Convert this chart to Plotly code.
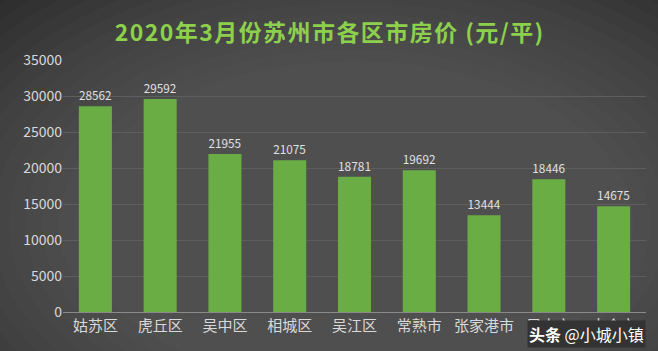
import plotly.graph_objects as go

categories = ["姑苏区", "虎丘区", "吴中区", "相城区", "吴江区", "常熟市", "张家港市", "昆山市", "太仓市"]
prices = [28562, 29592, 21955, 21075, 18781, 19692, 13444, 18446, 14675]
y_ticks = [0, 5000, 10000, 15000, 20000, 25000, 30000, 35000]
title_text = "2020年3月份苏州市各区市房价 (元/平)"

fig = go.Figure()
fig.add_trace(go.Bar(
    x=categories, y=prices,
    marker=dict(color="#6aad45", line=dict(width=0)),
    text=[str(v) for v in prices], textposition="outside",
    textfont=dict(color="#e0e0e0", size=12, family="Noto Sans CJK SC"),
    cliponaxis=False,
))

# soft radial background glow
n = 14
for i in range(n):
    k = i / n
    fig.add_shape(type="circle", xref="paper", yref="paper",
                  x0=-0.35 + 0.8 * k * 0.5, x1=1.35 - 0.8 * k * 0.5,
                  y0=-0.9 + 1.3 * k * 0.5, y1=1.6 - 1.3 * k * 0.5,
                  fillcolor="#ffffff", opacity=0.017, line=dict(width=0), layer="below")

spaced_title = "\u200a".join(title_text)

fig.update_layout(
    width=658, height=351,
    margin=dict(l=63, r=12, t=60, b=39),
    paper_bgcolor="#2c2c2c", plot_bgcolor="rgba(0,0,0,0)",
    bargap=0.49,
    showlegend=False,
    title=dict(text="<b>" + spaced_title + "</b>", x=0.5, xanchor="center",
               y=0.905, yanchor="middle",
               font=dict(color="#8cd04c", size=23, family="Noto Sans CJK SC")),
    font=dict(family="Noto Sans CJK SC", color="#d9d9d9"),
    yaxis=dict(range=[0, 35000], tickvals=y_ticks, ticktext=[str(v) for v in y_ticks],
               showgrid=True, gridcolor="#5e5e5e", gridwidth=1, zeroline=False,
               tickfont=dict(size=14, color="#d9d9d9"), ticks="", ticklen=0),
    xaxis=dict(showline=True, linecolor="#8a8a8a", linewidth=1,
               tickfont=dict(size=15, color="#d9d9d9"), ticks=""),
)

fig.add_annotation(text="<b>头条</b> @小城小镇", xref="paper", yref="paper",
                   x=1.0, y=-0.03, xanchor="right", yanchor="top", showarrow=False,
                   bgcolor="#333333",
                   font=dict(size=16, color="#ffffff", family="Noto Sans CJK SC"))

fig.write_html("out.html")
